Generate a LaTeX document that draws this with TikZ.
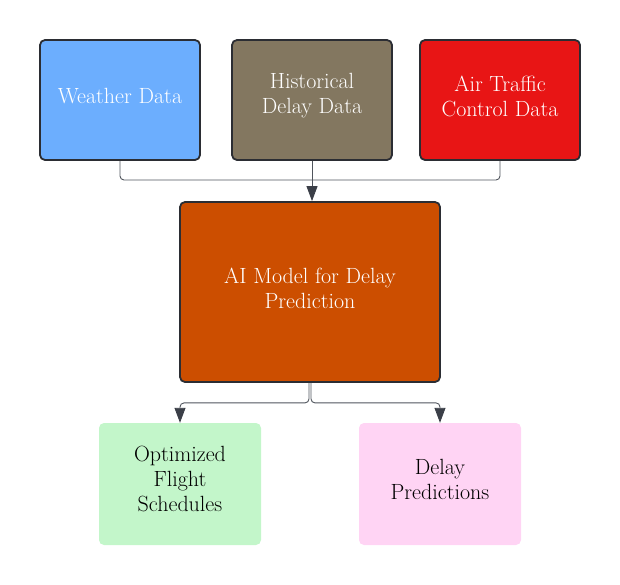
\documentclass[tikz,border=0pt]{standalone}
\usetikzlibrary{arrows.meta}
\definecolor{cweather}{HTML}{6CAEFE}
\definecolor{chist}{HTML}{837760}
\definecolor{cair}{HTML}{E81515}
\definecolor{cai}{HTML}{CC4E00}
\definecolor{copt}{HTML}{C3F6CA}
\definecolor{cdel}{HTML}{FFD4F4}
\definecolor{cborder}{HTML}{2B2D33}
\definecolor{cline}{HTML}{50555D}
\definecolor{ctip}{HTML}{3B3F48}
\tikzset{
  box/.style={rectangle, rounded corners=5pt},
  topbox/.style={box, draw=cborder, line width=1.8pt,
    minimum width=160pt, minimum height=120pt},
  outbox/.style={box, minimum width=162pt, minimum height=122pt},
  txt/.style={align=center, inner sep=0pt, font=\fontsize{22}{25}\selectfont},
  conn/.style={draw=cline, line width=0.9pt, rounded corners=4pt},
  tip/.style={-{Triangle[length=15pt,width=11pt,color=ctip]}}
}
\begin{document}
\begin{tikzpicture}[x=1pt,y=-1pt]
\useasboundingbox (0,0) rectangle (620,584);
\node[topbox, fill=cweather] (w) at (120,100) {};
\node[topbox, fill=chist] (h) at (312,100) {};
\node[topbox, fill=cair] (a) at (500,100) {};
\node[topbox, fill=cai, minimum width=260pt, minimum height=180pt] (ai) at (310,292) {};
\node[outbox, fill=copt] (o) at (180,484) {};
\node[outbox, fill=cdel] (d) at (440,484) {};
\node[txt, text=white] (wt) at ([yshift=4pt]w.center) {Weather Data};
\node[txt, text=white] (ht) at ([yshift=4pt]h.center) {Historical\\Delay Data};
\node[txt, text=white] (at) at ([yshift=4pt]a.center) {Air Traffic\\Control Data};
\node[txt, text=white] (ait) at ([yshift=4pt]ai.center) {AI Model for Delay\\Prediction};
\node[txt, text=black] (ot) at ([yshift=5pt]o.center) {Optimized\\Flight\\Schedules};
\node[txt, text=black] (dt) at ([yshift=5pt]d.center) {Delay\\Predictions};
\coordinate (j) at (312,180);
\draw[conn] (w.south) |- (j);
\draw[conn] (a.south) |- (j);
\draw[conn, tip] (h.south) -- (h.south |- ai.north);
\draw[conn, tip] ([xshift=-1pt]ai.south) -- ++(0,20) -| (o.north);
\draw[conn, tip] ([xshift=1pt]ai.south) -- ++(0,20) -| (d.north);
\end{tikzpicture}
\end{document}
